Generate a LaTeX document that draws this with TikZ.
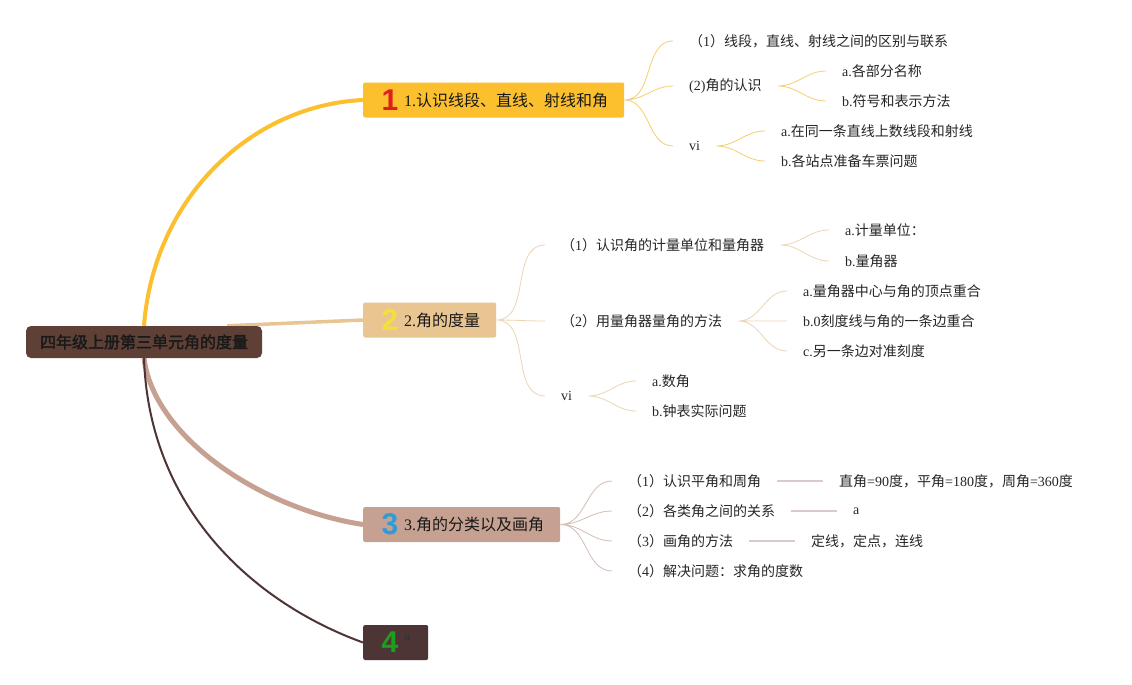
\documentclass[tikz,border=0pt]{standalone}
\usepackage{fontspec}
\setmainfont{Liberation Serif}
\newfontfamily\zh{Noto Sans CJK SC}
\newfontfamily\zhb[FakeBold=2]{Noto Sans CJK SC}
\newfontfamily\numf{Liberation Sans}
\usepackage{tikz}
\usetikzlibrary{calc}
\pgfdeclarelayer{bg}
\pgfsetlayers{bg,main}
\definecolor{rootc}{HTML}{5E4037}
\definecolor{c1}{HTML}{FCC02E}
\definecolor{c2}{HTML}{E9C592}
\definecolor{c3}{HTML}{C6A090}
\definecolor{c4}{HTML}{4E3535}
\definecolor{l1}{HTML}{F6CF6E}
\definecolor{l2}{HTML}{EDD5B3}
\definecolor{l3}{HTML}{D5BCB3}
\definecolor{s3}{HTML}{DCCACA}
\definecolor{numred}{HTML}{E02020}
\definecolor{numyellow}{HTML}{F5E03A}
\definecolor{numblue}{HTML}{2E9BDA}
\definecolor{numgreen}{HTML}{1E9E1E}
\newcommand{\xuhao}[1]{{\zh （}#1{\zh ）}}

\begin{document}
\begin{tikzpicture}[x=1pt, y=-1pt,
        box/.style={rounded corners=2pt, minimum height=35pt, inner sep=0, anchor=west},
        num/.style={font=\numf\bfseries\fontsize{30}{30}\selectfont, inner sep=0},
        btext/.style={anchor=west, inner sep=0, text=black!90, font=\fontsize{16}{18}\selectfont},
        item/.style={anchor=west, inner xsep=16pt, inner ysep=2pt, text=black!85, font=\fontsize{14}{16}\selectfont},
        fan/.style={line width=0.8pt, out=0, in=180}]
    \useasboundingbox (0,0) rectangle (1132,685);
    \node[fill=rootc, rounded corners=5pt, minimum width=236pt, minimum height=32pt, inner sep=0, text=black!90, font=\zhb\fontsize{16}{18}\selectfont] (root) at (144,342) {四年级上册第三单元角的度量};

    \node[box, fill=c1, minimum width=261pt] (b1) at (363,100) {};
    \node[num, text=numred] (n1) at (390,100) {1};
    \node[btext] (t1) at (404,100) {1.\zh 认识线段、直线、射线和角};
    \node[box, fill=c2, minimum width=133pt] (b2) at (363,320) {};
    \node[num, text=numyellow] (n2) at (390,320) {2};
    \node[btext] (t2) at (404,320) {2.\zh 角的度量};
    \node[box, fill=c3, minimum width=197pt] (b3) at (363,524.5) {};
    \node[num, text=numblue] (n3) at (390,524.5) {3};
    \node[btext] (t3) at (404,524.5) {3.\zh 角的分类以及画角};
    \node[box, fill=c4, minimum width=65pt] (b4) at (363,642.5) {};
    \node[num, text=numgreen] (n4) at (390,642.5) {4};
    \node[anchor=west, inner sep=0, text=black!80, font=\fontsize{14}{16}\selectfont] (t4) at (404,637) {a};

    \node[item] (c1a) at (673,41) {\xuhao{1}\zh 线段，直线、射线之间的区别与联系};
    \node[item] (c1b) at (673,86) {(2)\zh 角的认识};
    \node[item] (c1c) at (673,146) {vi};
    \node[item] (d1a) at (826,71) {a.\zh 各部分名称};
    \node[item] (d1b) at (826,101) {b.\zh 符号和表示方法};
    \node[item] (d1c) at (765,131) {a.\zh 在同一条直线上数线段和射线};
    \node[item] (d1d) at (765,161) {b.\zh 各站点准备车票问题};

    \node[item] (c2a) at (545,245) {\xuhao{1}\zh 认识角的计量单位和量角器};
    \node[item] (c2b) at (545,321) {\xuhao{2}\zh 用量角器量角的方法};
    \node[item] (c2c) at (545,396) {vi};
    \node[item] (d2a) at (829,230) {a.\zh 计量单位：};
    \node[item] (d2b) at (829,261) {b.\zh 量角器};
    \node[item] (d2c) at (787,291) {a.\zh 量角器中心与角的顶点重合};
    \node[item] (d2d) at (787,321) {b.0\zh 刻度线与角的一条边重合};
    \node[item] (d2e) at (787,351) {c.\zh 另一条边对准刻度};
    \node[item] (d2f) at (636,381) {a.\zh 数角};
    \node[item] (d2g) at (636,411) {b.\zh 钟表实际问题};

    \node[item] (c3a) at (612,481) {\xuhao{1}\zh 认识平角和周角};
    \node[item] (c3b) at (612,511) {\xuhao{2}\zh 各类角之间的关系};
    \node[item] (c3c) at (612,541) {\xuhao{3}\zh 画角的方法};
    \node[item] (c3d) at (612,571) {\xuhao{4}\zh 解决问题：求角的度数};
    \node[item] (e3a) at (823,481) {{\zh 直角}=90{\zh 度，平角}=180{\zh 度，周角}=360{\zh 度}};
    \node[item] (e3b) at (837,511) {a};
    \node[item] (e3c) at (795,541) {\zh 定线，定点，连线};

    \begin{pgfonlayer}{bg}
        \fill[white] (0,0) rectangle (1132,685);
        \draw[line width=4pt, c1] (root.north) .. controls +(10,-130) and +(-110,5) .. (b1.west);
        \draw[line width=3.5pt, c2] ([xshift=-35pt]root.north east) -- (b2.west);
        \draw[line width=5pt, c3] (root.south) .. controls +(10,80) and +(-100,-15) .. (b3.west);
        \draw[line width=2pt, c4] (root.south) .. controls +(5,150) and +(-110,-40) .. (b4.west);
        \draw[fan, l1] (b1.east) to (c1a.west) (b1.east) to (c1b.west) (b1.east) to (c1c.west);
        \draw[fan, l1] (c1b.east) to (d1a.west) (c1b.east) to (d1b.west);
        \draw[fan, l1] (c1c.east) to (d1c.west) (c1c.east) to (d1d.west);
        \draw[fan, l2] (b2.east) to (c2a.west) (b2.east) to (c2b.west) (b2.east) to (c2c.west);
        \draw[fan, l2] (c2a.east) to (d2a.west) (c2a.east) to (d2b.west);
        \draw[fan, l2] (c2b.east) to (d2c.west) (c2b.east) to (d2d.west) (c2b.east) to (d2e.west);
        \draw[fan, l2] (c2c.east) to (d2f.west) (c2c.east) to (d2g.west);
        \draw[fan, l3] (b3.east) to (c3a.west) (b3.east) to (c3b.west) (b3.east) to (c3c.west) (b3.east) to (c3d.west);
        \draw[line width=2pt, s3] (c3a.east) -- (e3a.west) (c3b.east) -- (e3b.west) (c3c.east) -- (e3c.west);
    \end{pgfonlayer}
\end{tikzpicture}
\end{document}
